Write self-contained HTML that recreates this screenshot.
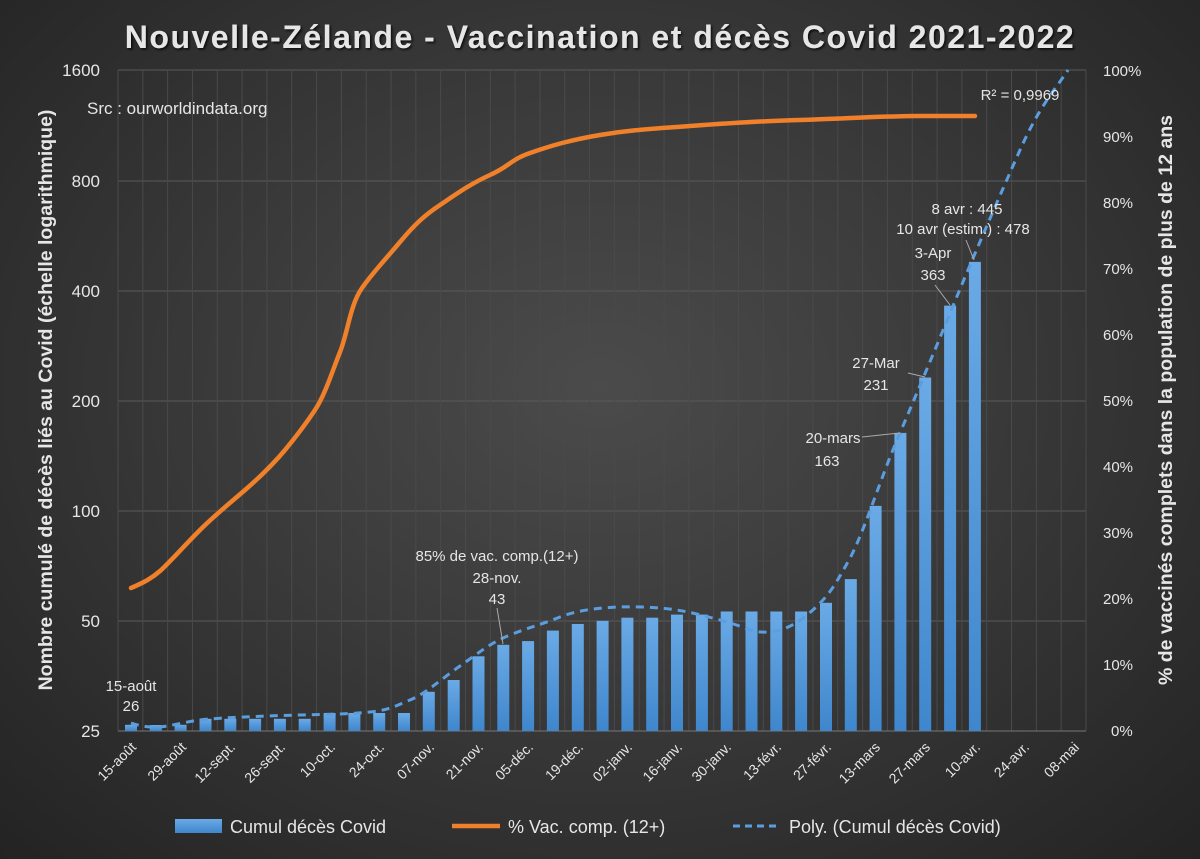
<!DOCTYPE html>
<html><head><meta charset="utf-8"><style>
html,body{margin:0;padding:0;}
body{width:1200px;height:859px;overflow:hidden;background:radial-gradient(ellipse at 50% 45%,#4b4b4b 0%,#3a3a3a 45%,#232323 100%);font-family:"Liberation Sans",sans-serif;}
svg{position:absolute;left:0;top:0;}
text{fill:#e6e6e6;font-family:"Liberation Sans",sans-serif;}
</style></head><body>
<svg width="1200" height="859" viewBox="0 0 1200 859">
<defs>
<linearGradient id="bg" x1="0" y1="0" x2="0" y2="1"><stop offset="0" stop-color="#6aaae6"/><stop offset="1" stop-color="#3f86cc"/></linearGradient>
<filter id="sh"><feDropShadow dx="1.5" dy="1.5" stdDeviation="1.2" flood-color="#000" flood-opacity="0.8"/></filter>
</defs>
<g stroke="#5a5a5a" stroke-width="1">
<line x1="118" y1="70" x2="1086" y2="70"/><line x1="118" y1="181" x2="1086" y2="181"/><line x1="118" y1="291" x2="1086" y2="291"/><line x1="118" y1="401" x2="1086" y2="401"/><line x1="118" y1="511" x2="1086" y2="511"/><line x1="118" y1="621" x2="1086" y2="621"/>
</g>
<g stroke="#4a4a4a" stroke-width="1" id="vg"></g>
<line x1="118" y1="731" x2="1086" y2="731" stroke="#777" stroke-width="1"/>
<g fill="url(#bg)" id="bars">
<rect x="125" y="724.8" width="12" height="6.2"/><rect x="149.8" y="725" width="12" height="6"/><rect x="174.6" y="724.8" width="12" height="6.2"/><rect x="199.5" y="718.8" width="12" height="12.2"/><rect x="224.3" y="718.8" width="12" height="12.2"/><rect x="249.1" y="718.8" width="12" height="12.2"/><rect x="273.9" y="718.8" width="12" height="12.2"/><rect x="298.7" y="718.8" width="12" height="12.2"/><rect x="323.6" y="713" width="12" height="18"/><rect x="348.4" y="713" width="12" height="18"/><rect x="373.2" y="713" width="12" height="18"/><rect x="398" y="713" width="12" height="18"/><rect x="422.8" y="691.8" width="12" height="39.2"/><rect x="447.7" y="680" width="12" height="51"/><rect x="472.5" y="656.3" width="12" height="74.7"/><rect x="497.3" y="644.8" width="12" height="86.2"/><rect x="522.1" y="641.1" width="12" height="89.9"/><rect x="546.9" y="630.6" width="12" height="100.4"/><rect x="571.8" y="624" width="12" height="107"/><rect x="596.6" y="620.8" width="12" height="110.2"/><rect x="621.4" y="617.7" width="12" height="113.3"/><rect x="646.2" y="617.7" width="12" height="113.3"/><rect x="671" y="614.6" width="12" height="116.4"/><rect x="695.9" y="614.6" width="12" height="116.4"/><rect x="720.7" y="611.5" width="12" height="119.5"/><rect x="745.5" y="611.5" width="12" height="119.5"/><rect x="770.3" y="611.5" width="12" height="119.5"/><rect x="795.1" y="611.5" width="12" height="119.5"/><rect x="820" y="602.8" width="12" height="128.2"/><rect x="844.8" y="579.1" width="12" height="151.9"/><rect x="869.6" y="505.9" width="12" height="225.1"/><rect x="894.4" y="432.9" width="12" height="298.1"/><rect x="919.2" y="377.5" width="12" height="353.5"/><rect x="944.1" y="305.6" width="12" height="425.4"/><rect x="968.9" y="261.9" width="12" height="469.1"/>
</g>
<path d="M131,588 C145,582 152,578 160,571 S185,545 200,530 S230,503 245,490 S275,462 285,450 S305,425 315,410 S332,372 340,352 S350,305 362,288 S385,260 400,242 S425,215 440,205 S470,184 490,175 S510,160 530,153 S570,140 600,135 S650,129 690,126 S760,121 800,120 S880,116 920,116 L975,116" fill="none" stroke="#f0802a" stroke-width="4.5" stroke-linecap="round"/>
<path d="M131,723 C140,726 150,728 160,727 S185,722 200,720 S260,716 300,715 S350,714 370,712 S395,706 410,700 S440,680 460,666 S490,643 510,635 S540,625 560,617 S610,606 642,607 S690,612 720,620 S750,633 768,632 S800,622 815,608 S835,585 849,560 S880,480 897,440 S935,350 953,306 S1000,195 1020,150 S1055,90 1068,70" fill="none" stroke="#5b9ee0" stroke-width="3" stroke-dasharray="8,6"/>
<g font-size="17" text-anchor="end">
<text x="100" y="76">1600</text><text x="100" y="187">800</text><text x="100" y="297">400</text><text x="100" y="407">200</text><text x="100" y="517">100</text><text x="100" y="627">50</text><text x="100" y="737">25</text>
</g>
<g font-size="15" text-anchor="start">
<text x="1103" y="76">100%</text><text x="1103" y="142">90%</text><text x="1103" y="208">80%</text><text x="1103" y="274">70%</text><text x="1103" y="340">60%</text><text x="1103" y="406">50%</text><text x="1103" y="472">40%</text><text x="1103" y="538">30%</text><text x="1103" y="604">20%</text><text x="1103" y="670">10%</text><text x="1111" y="736">0%</text>
</g>
<g font-size="14" text-anchor="end" id="xl">
<text transform="translate(137,748) rotate(-45)">15-août</text>
<text transform="translate(187,748) rotate(-45)">29-août</text>
<text transform="translate(236,748) rotate(-45)">12-sept.</text>
<text transform="translate(286,748) rotate(-45)">26-sept.</text>
<text transform="translate(336,748) rotate(-45)">10-oct.</text>
<text transform="translate(385,748) rotate(-45)">24-oct.</text>
<text transform="translate(435,748) rotate(-45)">07-nov.</text>
<text transform="translate(484,748) rotate(-45)">21-nov.</text>
<text transform="translate(534,748) rotate(-45)">05-déc.</text>
<text transform="translate(584,748) rotate(-45)">19-déc.</text>
<text transform="translate(633,748) rotate(-45)">02-janv.</text>
<text transform="translate(683,748) rotate(-45)">16-janv.</text>
<text transform="translate(732,748) rotate(-45)">30-janv.</text>
<text transform="translate(782,748) rotate(-45)">13-févr.</text>
<text transform="translate(832,748) rotate(-45)">27-févr.</text>
<text transform="translate(881,748) rotate(-45)">13-mars</text>
<text transform="translate(931,748) rotate(-45)">27-mars</text>
<text transform="translate(981,748) rotate(-45)">10-avr.</text>
<text transform="translate(1030,748) rotate(-45)">24-avr.</text>
<text transform="translate(1080,748) rotate(-45)">08-mai</text>
</g>
<text x="600" y="48" text-anchor="middle" font-size="32" font-weight="bold" fill="#f2f2f2" filter="url(#sh)" style="letter-spacing:1.5px">Nouvelle-Zélande - Vaccination et décès Covid 2021-2022</text>
<text x="87" y="114" font-size="17">Src : ourworldindata.org</text>
<text transform="translate(52,400) rotate(-90)" text-anchor="middle" font-size="19.5" font-weight="bold">Nombre cumulé de décès liés au Covid (échelle logarithmique)</text>
<text transform="translate(1172,400) rotate(-90)" text-anchor="middle" font-size="19.5" font-weight="bold">% de vaccinés complets dans  la population de plus de 12 ans</text>
<g font-size="15" text-anchor="middle">
<text x="131" y="691">15-août</text><text x="131" y="711">26</text>
<text x="497" y="561">85% de vac. comp.(12+)</text><text x="497" y="583">28-nov.</text><text x="497" y="604">43</text>
<text x="833" y="443">20-mars</text><text x="827" y="466">163</text>
<text x="876" y="368">27-Mar</text><text x="876" y="390">231</text>
<text x="933" y="258">3-Apr</text><text x="933" y="280">363</text>
<text x="967" y="214">8 avr : 445</text><text x="963" y="234">10 avr (estim.) : 478</text>
<text x="1020" y="100">R² = 0,9969</text>
</g>
<g stroke="#aaa" stroke-width="1" fill="none">
<line x1="497" y1="608" x2="503" y2="644"/>
<path d="M862,437 L900,433"/>
<path d="M908,373 L925,377"/>
<path d="M935,285 L950,305"/>
<path d="M966,240 L974,260"/>
</g>
<rect x="175" y="819" width="47" height="14" fill="url(#bg)"/>
<text x="230" y="833" font-size="18">Cumul décès Covid</text>
<line x1="452" y1="826" x2="500" y2="826" stroke="#f0802a" stroke-width="4.5"/>
<text x="508" y="833" font-size="18">% Vac. comp. (12+)</text>
<line x1="733" y1="826" x2="781" y2="826" stroke="#5b9ee0" stroke-width="3" stroke-dasharray="7,5"/>
<text x="789" y="833" font-size="18">Poly. (Cumul décès Covid)</text>
</svg>
<script>
var g=document.getElementById('vg');var s='';for(var j=0;j<=39;j++){var x=118+24.82*j;s+='<line x1="'+x+'" y1="70" x2="'+x+'" y2="731"/>';}g.innerHTML=s;
</script>
</body></html>
